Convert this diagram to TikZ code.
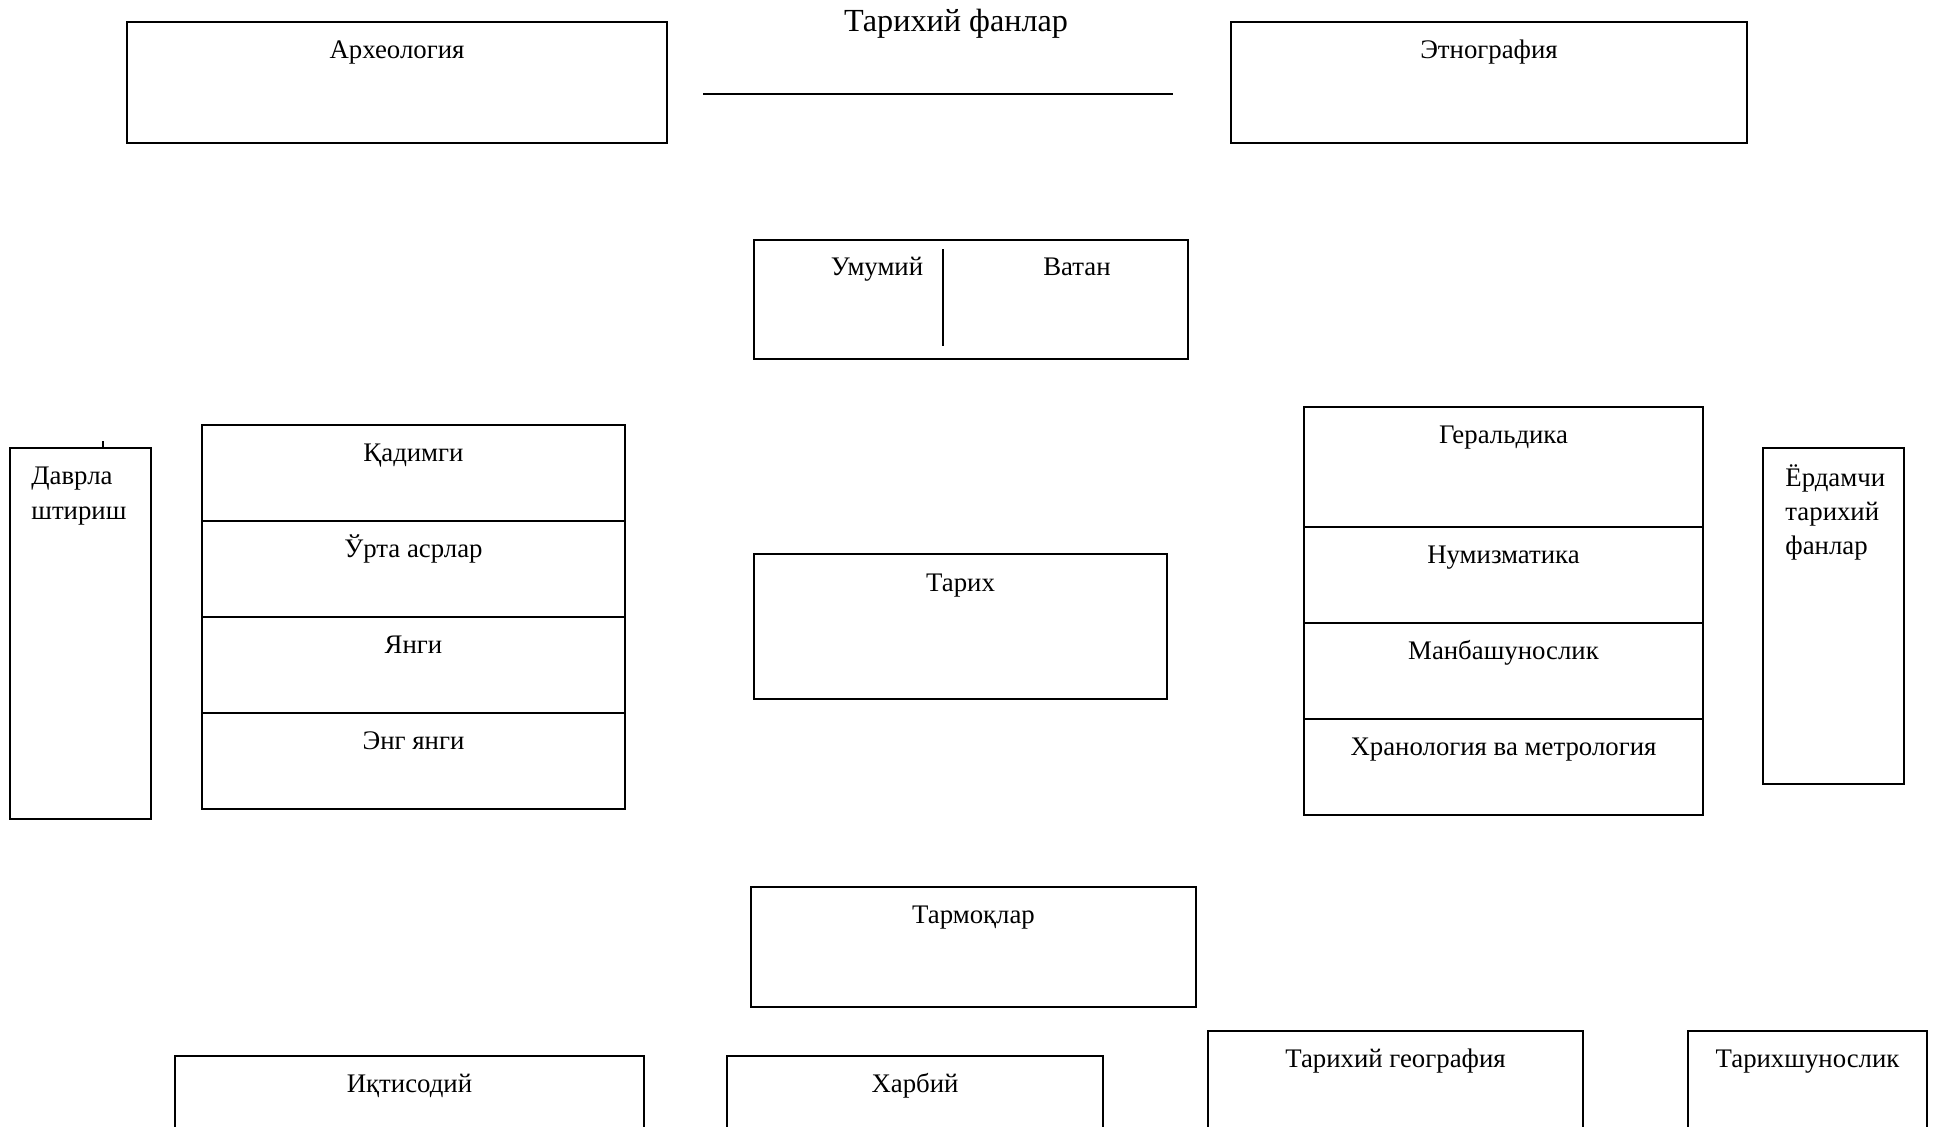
\documentclass[tikz,border=0pt]{standalone}
\usepackage{fontspec}
\setmainfont{Liberation Serif}
\begin{document}
\begin{tikzpicture}[x=0.5pt,y=-0.5pt,
  box/.style={draw,line width=1pt,inner sep=0pt,outer sep=0pt},
  lbl/.style={font=\fontsize{13.4}{17.5}\selectfont,anchor=base,inner sep=0pt},
  lbll/.style={lbl,anchor=base west},
  ttl/.style={font=\fontsize{16.1}{20}\selectfont,anchor=base,inner sep=0pt},
  ln/.style={line width=1pt}]
\useasboundingbox (0,0) rectangle (1936,1126);
\clip (0,0) rectangle (1936,1126);

% title
\node[ttl] (title) at (956,31) {Тарихий фанлар};
\coordinate (tl1) at (703,94);
\coordinate (tl2) at (1173,94);
\draw[ln] (tl1) -- (tl2);

% top boxes
\node[box,minimum width=270pt,minimum height=60.5pt] (arch) at (397,82.5) {};
\node[lbl] (archt) at (397,58) {Археология};
\node[box,minimum width=258pt,minimum height=60.5pt] (etn) at (1489,82.5) {};
\node[lbl] (etnt) at (1489,58) {Этнография};

% Umumiy / Vatan
\node[box,minimum width=217pt,minimum height=59.5pt] (uv) at (971,299.5) {};
\coordinate (uvd1) at (943,249);
\coordinate (uvd2) at (943,346);
\draw[ln] (uvd1) -- (uvd2);
\node[lbl] (umt) at (877,275) {Умумий};
\node[lbl] (vtt) at (1077,275) {Ватан};

% Davrlashtirish
\node[box,minimum width=70.5pt,minimum height=185.5pt] (davr) at (80.5,633.5) {};
\coordinate (tick) at (103,441);
\draw[ln] (tick) -- (tick |- davr.north);
\node[lbll] (davr1) at (31,484) {Даврла};
\node[lbll] (davr2) at (31,519) {штириш};

% left stack
\node[box,minimum width=211.5pt,minimum height=48pt] (l1) at (413.5,473) {};
\node[box,minimum width=211.5pt,minimum height=48pt] (l2) at (413.5,569) {};
\node[box,minimum width=211.5pt,minimum height=48pt] (l3) at (413.5,665) {};
\node[box,minimum width=211.5pt,minimum height=48pt] (l4) at (413.5,761) {};
\node[lbl] (l1t) at (413.5,461) {Қадимги};
\node[lbl] (l2t) at (413.5,557) {Ўрта асрлар};
\node[lbl] (l3t) at (413.5,653) {Янги};
\node[lbl] (l4t) at (413.5,749) {Энг янги};

% Tarix
\node[box,minimum width=206.5pt,minimum height=72.5pt] (tarix) at (960.5,626.5) {};
\node[lbl] (tarixt) at (960.5,591) {Тарих};

% right stack
\node[box,minimum width=199.5pt,minimum height=60pt] (r1) at (1503.5,467) {};
\node[box,minimum width=199.5pt,minimum height=48pt] (r2) at (1503.5,575) {};
\node[box,minimum width=199.5pt,minimum height=48pt] (r3) at (1503.5,671) {};
\node[box,minimum width=199.5pt,minimum height=48pt] (r4) at (1503.5,767) {};
\node[lbl] (r1t) at (1503.5,443) {Геральдика};
\node[lbl] (r2t) at (1503.5,563) {Нумизматика};
\node[lbl] (r3t) at (1503.5,659) {Манбашунослик};
\node[lbl] (r4t) at (1503.5,755) {Хранология ва метрология};

% Yordamchi
\node[box,minimum width=70.5pt,minimum height=168pt] (erd) at (1833.5,616) {};
\node[lbll] (erd1) at (1785,486) {Ёрдамчи};
\node[lbll] (erd2) at (1785,520) {тарихий};
\node[lbll] (erd3) at (1785,554) {фанлар};

% Tarmoqlar
\node[box,minimum width=222.5pt,minimum height=60pt] (tarm) at (973.5,947) {};
\node[lbl] (tarmt) at (973.5,923) {Тармоқлар};

% bottom boxes
\node[box,minimum width=234.5pt,minimum height=52pt] (iqt) at (409.5,1108) {};
\node[lbl] (iqtt) at (409.5,1092) {Иқтисодий};
\node[box,minimum width=188pt,minimum height=52pt] (harb) at (915,1108) {};
\node[lbl] (harbt) at (915,1092) {Харбий};
\node[box,minimum width=187.5pt,minimum height=64.5pt] (tg) at (1395.5,1095.5) {};
\node[lbl] (tgt) at (1395.5,1067) {Тарихий география};
\node[box,minimum width=119.5pt,minimum height=64.5pt] (tsh) at (1807.5,1095.5) {};
\node[lbl] (tsht) at (1807.5,1067) {Тарихшунослик};
\end{tikzpicture}
\end{document}
